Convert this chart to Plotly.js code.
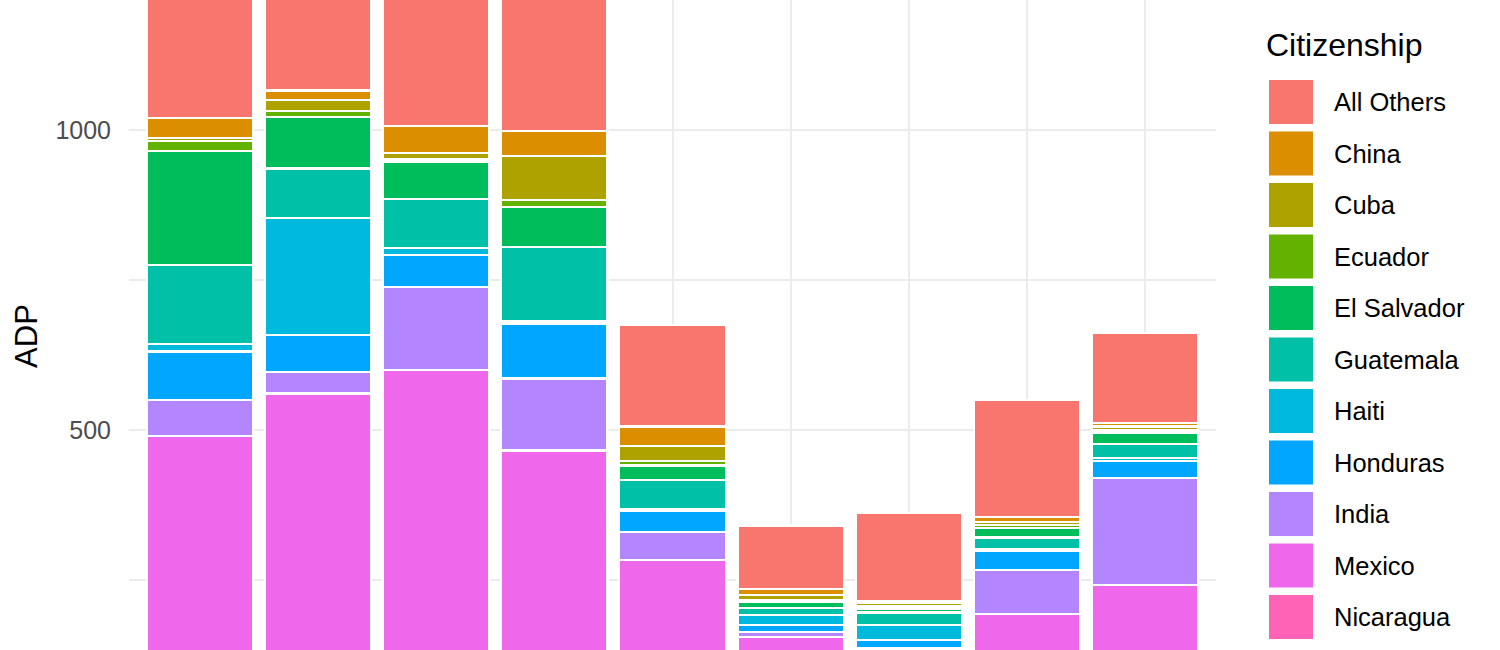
<!DOCTYPE html>
<html>
<head>
<meta charset="utf-8">
<script src="https://cdn.plot.ly/plotly-3.0.1.min.js"></script>
<style>
  html, body { margin: 0; padding: 0; overflow: hidden; background: #ffffff; }
  #chart { width: 1500px; height: 672px; }
</style>
</head>
<body>
<div id="chart"></div>
<script>
// fiscal years (x labels sit below the visible crop)
var fiscalYears = ['FY2016', 'FY2017', 'FY2018', 'FY2019', 'FY2020', 'FY2021', 'FY2022', 'FY2023', 'FY2024'];

// average daily population by citizenship
var allOthers  = [290, 230, 300, 320, 169, 106, 147, 195, 150];
var china      = [33, 16, 45, 42, 32, 10, 3, 8, 6];
var cuba       = [5, 18, 11, 74, 25, 8, 6, 5, 6];
var ecuador    = [17, 10, 4, 11, 8, 4, 4, 5, 4];
var elSalvador = [190, 86, 62, 67, 24, 9, 6, 16, 19];
var guatemala  = [131, 82, 81, 124, 48, 12, 21, 19, 23];
var haiti      = [13, 196, 12, 4, 3, 17, 25, 4, 5];
var honduras   = [81, 61, 54, 91, 36, 11, 14, 31, 29];
var india      = [60, 36, 138, 120, 47, 9, 15, 74, 178];
var mexico     = [460, 536, 580, 426, 268, 130, 100, 178, 222];
var nicaragua  = [30, 25, 20, 40, 15, 25, 21, 15, 20];

var citizenships = ['All Others', 'China', 'Cuba', 'Ecuador', 'El Salvador', 'Guatemala',
                    'Haiti', 'Honduras', 'India', 'Mexico', 'Nicaragua'];
var seriesValues = [allOthers, china, cuba, ecuador, elSalvador, guatemala,
                    haiti, honduras, india, mexico, nicaragua];
var colors = ['#F8766D', '#DB8E00', '#AEA200', '#64B200', '#00BD5C', '#00C1A7',
              '#00BADE', '#00A6FF', '#B385FF', '#EF67EB', '#FF63B6'];

var fontFamily = '"Liberation Sans", Arial, sans-serif';

// ggplot stacks the first level on top, so add traces bottom-up
var data = [];
for (var i = citizenships.length - 1; i >= 0; i--) {
  data.push({
    type: 'bar',
    name: citizenships[i],
    x: fiscalYears,
    y: seriesValues[i],
    marker: { color: colors[i], line: { color: '#ffffff', width: 2.2 } },
    showlegend: false
  });
}

// legend drawn by hand so the swatches get ggplot's size
var H = 672, L = 129, W = 1087;
function px(x) { return (x - L) / W; }
function py(y) { return (H - y) / H; }

var shapes = [];
var annotations = [{
  xref: 'paper', yref: 'paper', x: px(1264), y: py(45),
  xanchor: 'left', yanchor: 'middle', showarrow: false,
  text: 'Citizenship', font: { family: fontFamily, size: 32, color: '#000000' }
}];
for (var k = 0; k < citizenships.length; k++) {
  var cy = 102 + k * 51.5;
  shapes.push({
    type: 'rect', xref: 'paper', yref: 'paper',
    x0: px(1268), x1: px(1314), y0: py(cy - 23), y1: py(cy + 23),
    fillcolor: colors[k], line: { color: '#ffffff', width: 2 }
  });
  annotations.push({
    xref: 'paper', yref: 'paper', x: px(1332), y: py(cy),
    xanchor: 'left', yanchor: 'middle', showarrow: false,
    text: citizenships[k], font: { family: fontFamily, size: 25.5, color: '#000000' }
  });
}

var layout = {
  width: 1500,
  height: H,
  margin: { l: L, r: 1500 - L - W, t: 0, b: 0, pad: 0 },
  paper_bgcolor: '#ffffff',
  plot_bgcolor: '#ffffff',
  barmode: 'stack',
  bargap: 0.1,
  showlegend: false,
  font: { family: fontFamily },
  xaxis: {
    range: [-0.6, 8.6],
    showticklabels: false,
    showgrid: true,
    gridcolor: '#EBEBEB',
    gridwidth: 2,
    zeroline: false,
    ticks: ''
  },
  yaxis: {
    range: [96.7, 1216.7],
    tick0: 0,
    dtick: 500,
    showgrid: true,
    gridcolor: '#EBEBEB',
    gridwidth: 2,
    minor: { dtick: 250, tick0: 0, showgrid: true, gridcolor: '#EBEBEB', gridwidth: 1.3 },
    zeroline: false,
    ticks: '',
    ticklabelstandoff: 17,
    tickfont: { family: fontFamily, size: 25, color: '#4D4D4D' },
    title: { text: 'ADP', standoff: 8, font: { family: fontFamily, size: 31, color: '#000000' } }
  },
  shapes: shapes,
  annotations: annotations
};

Plotly.newPlot('chart', data, layout, { displayModeBar: false, staticPlot: true });
</script>
</body>
</html>
